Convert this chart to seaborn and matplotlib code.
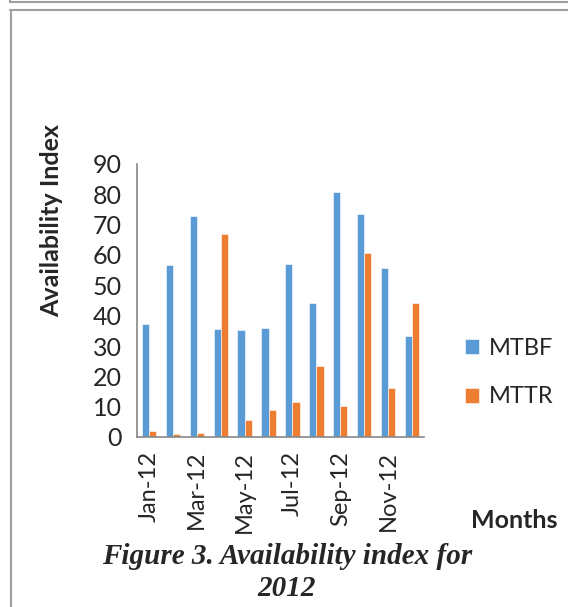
import pandas as pd
import matplotlib.pyplot as plt
import seaborn as sns
from matplotlib.lines import Line2D
from matplotlib.ticker import FixedLocator

# Dane
months = ["Jan-12", "Feb-12", "Mar-12", "Apr-12", "May-12", "Jun-12",
          "Jul-12", "Aug-12", "Sep-12", "Oct-12", "Nov-12", "Dec-12"]
mtbf = [37.3, 56.7, 72.9, 35.7, 35.4, 36.0, 57.0, 44.1, 80.9, 73.4, 55.7, 33.3]
mttr = [1.9, 1.1, 1.4, 67.0, 5.7, 8.9, 11.4, 23.4, 10.2, 60.6, 16.1, 44.3]

df = pd.DataFrame({"month": months * 2,
                   "value": mtbf + mttr,
                   "series": ["MTBF"] * 12 + ["MTTR"] * 12})

sns.set_style("white")
plt.rcParams['font.family'] = ['Lato', 'DejaVu Sans']

fig = plt.figure(figsize=(5.68, 6.07), dpi=100)
ax = fig.add_axes([137 / 568, 1 - 437 / 607, 287 / 568, 273 / 607])

sns.barplot(data=df, x="month", y="value", hue="series", order=months,
            palette=["#5B9BD5", "#ED7D31"], width=0.6, saturation=1,
            edgecolor="white", linewidth=0.4, ax=ax)

ax.set_ylim(0, 90)
ax.set_xlim(-0.5, 11.5)
ax.set_yticks(range(0, 91, 10))
ax.set_xticks(range(0, 12, 2))
ax.set_xticklabels(months[::2], rotation=90, fontsize=17)
ax.xaxis.set_minor_locator(FixedLocator([i - 0.5 for i in range(0, 13, 2)]))
ax.tick_params(axis="x", which="major", length=0, pad=10)
ax.tick_params(axis="x", which="minor", length=6, width=1.2, color="#888888", direction="out")
ax.tick_params(axis="y", length=6, width=1.2, color="#888888", labelsize=18, pad=5, direction="out")
ax.set_xlabel("")
ax.set_ylabel("")

for side in ["top", "right"]:
    ax.spines[side].set_visible(False)
for side in ["left", "bottom"]:
    ax.spines[side].set_color("#888888")
    ax.spines[side].set_linewidth(1.2)

ax.legend(loc="upper left", bbox_to_anchor=(444 / 568, 1 - 317 / 607),
          bbox_transform=fig.transFigure, frameon=False, fontsize=17,
          handlelength=0.6, handleheight=0.6, handletextpad=0.4, labelspacing=1.15)

fig.text(52 / 568, 1 - 221 / 607, "Availability Index", rotation=90,
         ha="center", va="center", fontsize=18, fontweight="bold")
fig.text(514 / 568, 1 - 520 / 607, "Months", ha="center", va="center",
         fontsize=18, fontweight="bold")
fig.text(287 / 568, 1 - 556 / 607, "Figure 3. Availability index for",
         ha="center", va="center", fontsize=21, fontweight="bold",
         fontstyle="italic", family="Liberation Serif")
fig.text(287 / 568, 1 - 588 / 607, "2012", ha="center", va="center",
         fontsize=21, fontweight="bold", fontstyle="italic", family="Liberation Serif")

# Ramki
gray = "#a0a0a0"
fig.add_artist(Line2D([10 / 568, 1], [1 - 2 / 607, 1 - 2 / 607], color=gray, lw=1.5))
fig.add_artist(Line2D([10 / 568, 10 / 568], [1, 1 - 2 / 607], color=gray, lw=1.5))
fig.add_artist(Line2D([10 / 568, 1], [1 - 10 / 607, 1 - 10 / 607], color=gray, lw=1.5))
fig.add_artist(Line2D([11 / 568, 11 / 568], [0, 1 - 10 / 607], color=gray, lw=1.5))

fig.savefig("out.png", dpi=100)
